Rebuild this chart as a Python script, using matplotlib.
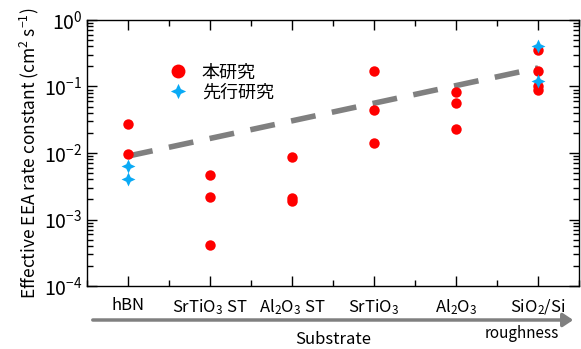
import numpy as np
import matplotlib
matplotlib.use("Agg")
import matplotlib.pyplot as plt
from matplotlib.path import Path
from matplotlib.ticker import LogLocator, NullFormatter

plt.rcParams['font.family'] = ['Noto Sans CJK JP', 'DejaVu Sans']
plt.rcParams['mathtext.fontset'] = 'custom'
plt.rcParams['mathtext.rm'] = 'Noto Sans CJK JP'
plt.rcParams['mathtext.it'] = 'Noto Sans CJK JP'

# データ
substrates = ['hBN', 'SrTiO$_3$ ST', 'Al$_2$O$_3$ ST', 'SrTiO$_3$', 'Al$_2$O$_3$', 'SiO$_2$/Si']
# 本研究 (substrate index, value)
ours_idx = [1, 1, 2, 2, 2, 3, 3, 3, 4, 4, 4, 5, 5, 5, 6, 6, 6, 6]
ours_val = [0.0275, 0.0097, 0.0047, 0.0022, 0.00041, 0.0086, 0.0021, 0.0019,
            0.17, 0.044, 0.0143, 0.082, 0.056, 0.023, 0.35, 0.17, 0.10, 0.089]
# 先行研究
prev_idx = [1, 1, 6, 6]
prev_val = [0.0064, 0.0040, 0.41, 0.12]
# 破線
trend_idx = [1, 6]
trend_val = [0.009, 0.19]

# 4つ星マーカー
ang = np.linspace(0, 2*np.pi, 9)[:-1] + np.pi/2
rad = np.where(np.arange(8) % 2 == 0, 1.0, 0.45)
verts = np.column_stack([rad*np.cos(ang), rad*np.sin(ang)])
verts = np.vstack([verts, verts[:1]])
star = Path(verts, [Path.MOVETO] + [Path.LINETO]*7 + [Path.CLOSEPOLY])

fig = plt.figure(figsize=(5.81, 3.49), dpi=100)
ax = fig.add_axes([0.150, 0.1805, 0.8466, 0.7622])

ax.plot(trend_idx, trend_val, color='#808080', lw=4, dashes=(4.5, 3), zorder=1)
ax.plot(ours_idx, ours_val, 'o', color='#ff0000', ms=7.5, mec='none', zorder=2)
ax.plot(prev_idx, prev_val, marker=star, ls='none', color='#0aaaf5', ms=10, mec='none', zorder=3)

ax.set_yscale('log')
ax.set_ylim(1e-4, 1)
ax.set_xlim(0.5, 6.5)
ax.set_xticks(range(1, 7))
ax.set_xticklabels(substrates)
ax.set_xticks(np.arange(0.5, 7, 1.0), minor=True)
ax.yaxis.set_major_locator(LogLocator(base=10, numticks=10))
ax.yaxis.set_minor_locator(LogLocator(base=10, subs=np.arange(2, 10), numticks=10))
ax.yaxis.set_minor_formatter(NullFormatter())

ax.tick_params(which='both', direction='in', top=True, right=True, width=1)
ax.tick_params(which='major', length=7)
ax.tick_params(which='minor', length=4)
ax.tick_params(axis='x', pad=8, labelsize=12)
ax.tick_params(axis='y', labelsize=14)
for s in ax.spines.values():
    s.set_linewidth(1)

ax.set_ylabel('Effective EEA rate constant (cm$^{2}$ s$^{-1}$)', fontsize=12.5, labelpad=2)

# 凡例
ax.plot([], [], 'o', color='#ff0000', ms=10, mec='none', label='本研究')
ax.plot([], [], marker=star, ls='none', color='#0aaaf5', ms=11, mec='none', label='先行研究')
h, l = ax.get_legend_handles_labels()
ax.legend(h[-2:], l[-2:], loc='upper left', bbox_to_anchor=(0.13, 0.87), frameon=False,
          fontsize=13, handletextpad=0.3, labelspacing=0.1, borderpad=0)

# 矢印
fig.patches.append(matplotlib.patches.FancyArrowPatch(
    (90/581, 1-320/349), (576/581, 1-320/349), transform=fig.transFigure,
    arrowstyle='-|>,head_length=6,head_width=4', color='#808080', lw=2.5, mutation_scale=1))
fig.text(333/581, 1-339/349, 'Substrate', ha='center', va='center', fontsize=12)
fig.text(522/581, 1-333/349, 'roughness', ha='center', va='center', fontsize=11)

fig.savefig('out.png', dpi=100)
